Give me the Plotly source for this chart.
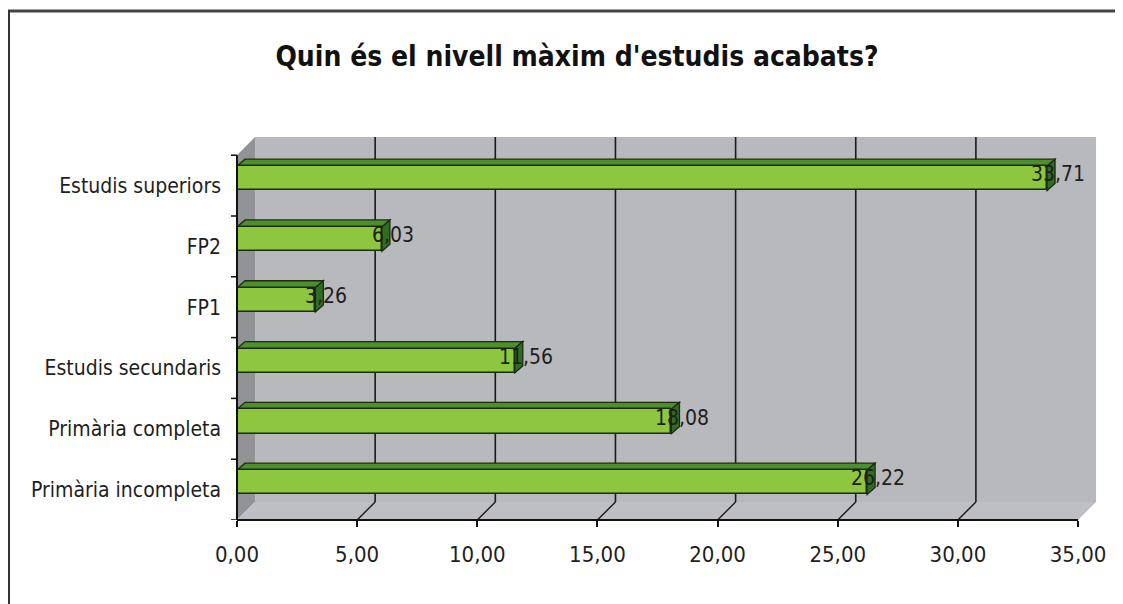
import plotly.graph_objects as go

# ---- data ----
categories = ["Primària incompleta", "Primària completa", "Estudis secundaris",
              "FP1", "FP2", "Estudis superiors"]
values = [26.22, 18.08, 11.56, 3.26, 6.03, 33.71]
x_ticks = [0, 5, 10, 15, 20, 25, 30, 35]
x_tick_labels = ["0,00", "5,00", "10,00", "15,00", "20,00", "25,00", "30,00", "35,00"]
title_text = "Quin és el nivell màxim d'estudis acabats?"

# ---- layout constants (page has an 8px body offset) ----
OFF = 8
W, H = 1123, 604
ML, MT = 237 - OFF, 137 - OFF
MB = H - (520 - OFF)
MR = W - (1100 - OFF)
PXX = 24.03          # px per x unit
PXY = 60.8           # px per category
PW = W - ML - MR
PH = H - MT - MB
XR = [0, PW / PXX]
YR = [-0.5, -0.5 + PH / PXY]
XMAX_AX = 35

DXW, DYW = 18 / PXX, 18 / PXY   # wall depth
DXB, DYB = 8 / PXX, 7 / PXY     # bar depth
BOFF, BW = -0.08, 0.40

FONT = "Liberation Sans Narrow, DejaVu Sans Condensed, Arial Narrow, sans-serif"
TXT = "#1e1e1e"

def px2paper_x(px):
    return (px - OFF - ML) / PW

def py2paper_y(py):
    return (H - MB - (py - OFF)) / PH

ypos = list(range(len(categories)))
ybot = YR[0]
ytopf = len(categories) - 0.5

shapes = []
# back wall
shapes.append(dict(type="path", layer="below", xref="x", yref="y",
                   path=f"M {DXW},{ybot+DYW} L {XMAX_AX+DXW},{ybot+DYW} L {XMAX_AX+DXW},{YR[1]} L {DXW},{YR[1]} Z",
                   fillcolor="#b7b9bd", line=dict(width=0)))
# side wall
shapes.append(dict(type="path", layer="below", xref="x", yref="y",
                   path=f"M 0,{ybot} L {DXW},{ybot+DYW} L {DXW},{YR[1]} L 0,{ytopf} Z",
                   fillcolor="#929397", line=dict(width=0)))
# floor
shapes.append(dict(type="path", layer="below", xref="x", yref="y",
                   path=f"M 0,{ybot} L {XMAX_AX},{ybot} L {XMAX_AX+DXW},{ybot+DYW} L {DXW},{ybot+DYW} Z",
                   fillcolor="#bdbfc3", line=dict(width=0)))
# grid lines on back wall + floor diagonals
for k in x_ticks[1:-1]:
    shapes.append(dict(type="line", layer="below", xref="x", yref="y",
                       x0=k + DXW, x1=k + DXW, y0=ybot + DYW, y1=YR[1],
                       line=dict(color="#1a1a1a", width=1.6)))
    shapes.append(dict(type="line", layer="below", xref="x", yref="y",
                       x0=k, x1=k + DXW, y0=ybot, y1=ybot + DYW,
                       line=dict(color="#1a1a1a", width=1.4)))
# bar 3D faces
for c, v in zip(ypos, values):
    yt = c + BOFF + BW
    yb = c + BOFF
    shapes.append(dict(type="path", layer="below", xref="x", yref="y",
                       path=f"M 0,{yt} L {DXB},{yt+DYB} L {v+DXB},{yt+DYB} L {v},{yt} Z",
                       fillcolor="#4d8f2c", line=dict(color="#1c2a12", width=1.3)))
    shapes.append(dict(type="path", layer="below", xref="x", yref="y",
                       path=f"M {v},{yb} L {v},{yt} L {v+DXB},{yt+DYB} L {v+DXB},{yb+DYB} Z",
                       fillcolor="#2f6e20", line=dict(color="#1c2a12", width=1.3)))
# axis lines
shapes.append(dict(type="line", layer="above", xref="x", yref="paper",
                   x0=0, x1=XMAX_AX, y0=0, y1=0, line=dict(color="#111", width=2)))
shapes.append(dict(type="line", layer="above", xref="paper", yref="y",
                   x0=0, x1=0, y0=ybot, y1=ytopf, line=dict(color="#111", width=2)))
# y boundary ticks
for b in range(len(categories) + 1):
    shapes.append(dict(type="line", layer="above", xref="paper", yref="y",
                       xsizemode="pixel", xanchor=0, x0=-6, x1=0,
                       y0=b - 0.5, y1=b - 0.5, line=dict(color="#111", width=1.5)))
# outer frame (cut at right/bottom)
shapes.append(dict(type="line", xref="paper", yref="paper",
                   x0=px2paper_x(4), x1=px2paper_x(1135), y0=py2paper_y(11), y1=py2paper_y(11),
                   line=dict(color="#444", width=3)))
shapes.append(dict(type="line", xref="paper", yref="paper",
                   x0=px2paper_x(9), x1=px2paper_x(9), y0=py2paper_y(10), y1=py2paper_y(640),
                   line=dict(color="#333", width=2)))

fig = go.Figure()
fig.add_trace(go.Bar(
    y=ypos, x=values, orientation="h", offset=BOFF, width=BW,
    marker=dict(color="#8dc63f", line=dict(color="#1c2a12", width=1.5)),
    hoverinfo="skip", showlegend=False,
))

annotations = []
for c, v in zip(ypos, values):
    annotations.append(dict(x=v, y=c + BOFF + BW / 2, xref="x", yref="y",
                            text=f"{v:.2f}".replace(".", ","), showarrow=False,
                            xanchor="center", yanchor="middle", xshift=11, yshift=4,
                            font=dict(family=FONT, size=21, color=TXT)))

fig.update_layout(
    width=W, height=H,
    margin=dict(l=ML, r=MR, t=MT, b=MB, autoexpand=False),
    paper_bgcolor="white", plot_bgcolor="white",
    title=dict(text=f"<b>{title_text}</b>", x=(577 - OFF) / W, y=1 - (56 - OFF) / H,
               xanchor="center", yanchor="middle",
               font=dict(family=FONT, size=28, color="#111")),
    xaxis=dict(range=XR, tickvals=x_ticks, ticktext=x_tick_labels,
               showgrid=False, zeroline=False, showline=False,
               ticks="outside", ticklen=6, tickwidth=1.5, tickcolor="#111",
               ticklabelstandoff=9,
               tickfont=dict(family=FONT, size=22, color=TXT), fixedrange=True),
    yaxis=dict(range=YR, tickvals=ypos, ticktext=categories,
               showgrid=False, zeroline=False, showline=False, ticks="",
               ticklabelstandoff=15,
               tickfont=dict(family=FONT, size=21, color=TXT), fixedrange=True),
    shapes=shapes, annotations=annotations, bargap=0,
)

fig.write_html("out.html")
